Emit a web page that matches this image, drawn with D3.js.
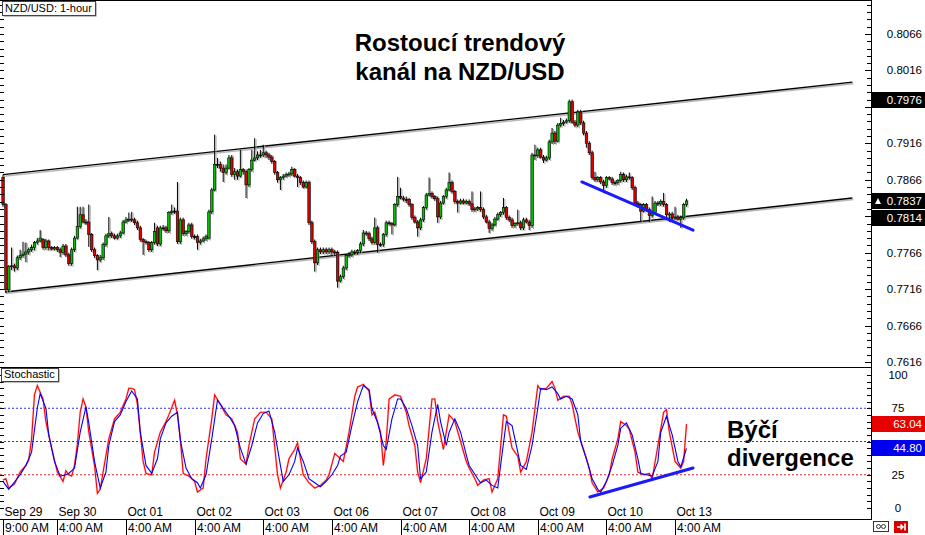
<!DOCTYPE html>
<html><head><meta charset="utf-8">
<script src="https://cdn.jsdelivr.net/npm/d3@7"></script>
<style>body{margin:0;background:#fff}svg{display:block}text{font-family:Arial,"Liberation Sans",sans-serif}</style>
</head><body><svg id="c" width="925" height="535"></svg>
<script>
const opens=[.7869,.7832,.7715,.7747,.7748,.7745,.7759,.7762,.7764,.7767,
.7770,.7773,.7780,.7782,.7784,.7773,.7782,.7773,.7771,.7773,
.7770,.7766,.7775,.7763,.7751,.7770,.7786,.7802,.7818,.7808,
.7808,.7791,.7770,.7762,.7756,.7759,.7777,.7789,.7792,.7789,
.7786,.7789,.7793,.7808,.7811,.7812,.7811,.7807,.7800,.7784,
.7781,.7780,.7770,.7780,.7800,.7778,.7800,.7800,.7796,.7821,
.7823,.7823,.7781,.7811,.7792,.7795,.7804,.7788,.7788,.7780,
.7782,.7785,.7786,.7822,.7852,.7887,.7887,.7882,.7876,.7882,
.7896,.7873,.7877,.7871,.7880,.7877,.7859,.7880,.7893,.7896,
.7900,.7900,.7903,.7900,.7897,.7891,.7876,.7866,.7869,.7871,
.7873,.7874,.7880,.7871,.7869,.7862,.7856,.7862,.7807,.7781,
.7752,.7770,.7767,.7770,.7767,.7770,.7767,.7766,.7727,.7733,
.7745,.7762,.7763,.7767,.7766,.7769,.7778,.7793,.7792,.7785,
.7780,.7800,.7777,.7777,.7791,.7807,.7806,.7804,.7832,.7843,
.7841,.7839,.7839,.7832,.7814,.7808,.7800,.7811,.7828,.7845,
.7847,.7843,.7840,.7815,.7834,.7843,.7852,.7862,.7850,.7836,
.7834,.7837,.7834,.7836,.7833,.7825,.7826,.7828,.7825,.7815,
.7808,.7799,.7804,.7812,.7818,.7821,.7828,.7814,.7811,.7803,
.7806,.7807,.7800,.7811,.7808,.7803,.7900,.7899,.7907,.7897,
.7893,.7896,.7918,.7930,.7919,.7941,.7943,.7945,.7947,.7973,
.7945,.7941,.7959,.7944,.7930,.7916,.7903,.7869,.7866,.7869,
.7863,.7858,.7869,.7867,.7862,.7862,.7865,.7873,.7866,.7870,
.7869,.7855,.7834,.7832,.7823,.7832,.7825,.7817,.7821,.7834,
.7833,.7836,.7832,.7818,.7819,.7814,.7815,.7812,.7814,.7832];
const highs=[.7873,.7834,.7749,.7773,.7751,.7762,.7770,.7781,.7780,.7773,
.7777,.7782,.7786,.7797,.7786,.7785,.7784,.7775,.7775,.7775,
.7773,.7778,.7778,.7766,.7773,.7789,.7829,.7829,.7829,.7812,
.7832,.7793,.7773,.7764,.7763,.7780,.7792,.7815,.7795,.7792,
.7792,.7796,.7811,.7815,.7821,.7822,.7814,.7810,.7803,.7786,
.7784,.7782,.7782,.7807,.7803,.7803,.7804,.7803,.7823,.7832,
.7828,.7863,.7814,.7814,.7797,.7807,.7807,.7791,.7791,.7785,
.7788,.7791,.7825,.7855,.7928,.7896,.7891,.7887,.7887,.7900,
.7900,.7882,.7880,.7907,.7882,.7880,.7882,.7907,.7923,.7905,
.7907,.7914,.7906,.7903,.7900,.7893,.7878,.7871,.7874,.7876,
.7877,.7884,.7882,.7874,.7871,.7865,.7865,.7865,.7810,.7784,
.7773,.7773,.7773,.7773,.7773,.7773,.7770,.7769,.7736,.7748,
.7764,.7767,.7770,.7770,.7771,.7781,.7797,.7796,.7795,.7788,
.7814,.7803,.7780,.7793,.7810,.7810,.7808,.7834,.7870,.7855,
.7844,.7843,.7841,.7834,.7817,.7811,.7814,.7830,.7848,.7869,
.7850,.7845,.7843,.7837,.7845,.7855,.7876,.7865,.7852,.7839,
.7840,.7840,.7839,.7839,.7850,.7829,.7830,.7850,.7828,.7818,
.7811,.7807,.7815,.7821,.7823,.7841,.7830,.7817,.7814,.7808,
.7825,.7810,.7814,.7814,.7811,.7903,.7914,.7910,.7910,.7900,
.7899,.7921,.7937,.7933,.7944,.7951,.7948,.7950,.7976,.7976,
.7948,.7962,.7962,.7947,.7933,.7919,.7906,.7877,.7871,.7871,
.7866,.7871,.7871,.7870,.7865,.7867,.7877,.7876,.7873,.7876,
.7871,.7858,.7837,.7834,.7834,.7834,.7828,.7843,.7837,.7837,
.7839,.7848,.7834,.7822,.7822,.7829,.7818,.7817,.7834,.7840];
const lows=[.7829,.7711,.7712,.7742,.7740,.7742,.7756,.7759,.7753,.7763,
.7767,.7769,.7777,.7780,.7770,.7770,.7769,.7769,.7769,.7767,
.7760,.7763,.7760,.7748,.7748,.7767,.7784,.7799,.7806,.7804,
.7774,.7767,.7759,.7742,.7753,.7756,.7774,.7786,.7786,.7784,
.7784,.7786,.7791,.7806,.7808,.7808,.7804,.7797,.7781,.7763,
.7777,.7767,.7767,.7777,.7775,.7775,.7796,.7793,.7793,.7818,
.7819,.7778,.7778,.7789,.7789,.7792,.7785,.7784,.7770,.7777,
.7780,.7782,.7784,.7819,.7850,.7882,.7877,.7863,.7873,.7880,
.7870,.7866,.7866,.7869,.7873,.7841,.7856,.7877,.7891,.7893,
.7896,.7897,.7896,.7893,.7888,.7873,.7862,.7852,.7866,.7869,
.7870,.7871,.7869,.7856,.7859,.7854,.7854,.7804,.7778,.7740,
.7749,.7764,.7764,.7764,.7764,.7763,.7763,.7718,.7725,.7730,
.7742,.7759,.7760,.7763,.7763,.7766,.7775,.7789,.7782,.7777,
.7777,.7766,.7774,.7774,.7788,.7803,.7791,.7802,.7829,.7839,
.7836,.7834,.7829,.7811,.7806,.7788,.7797,.7808,.7825,.7843,
.7840,.7837,.7807,.7812,.7832,.7840,.7850,.7847,.7833,.7821,
.7832,.7832,.7832,.7830,.7822,.7822,.7823,.7822,.7812,.7806,
.7793,.7796,.7802,.7810,.7815,.7818,.7811,.7808,.7800,.7800,
.7803,.7797,.7797,.7806,.7797,.7800,.7893,.7896,.7895,.7889,
.7891,.7893,.7915,.7915,.7917,.7938,.7940,.7943,.7944,.7943,
.7938,.7938,.7941,.7927,.7910,.7900,.7866,.7863,.7863,.7860,
.7848,.7855,.7865,.7859,.7858,.7859,.7862,.7863,.7863,.7866,
.7852,.7832,.7828,.7808,.7821,.7822,.7808,.7814,.7818,.7830,
.7830,.7829,.7815,.7808,.7811,.7811,.7810,.7800,.7811,.7829];
const closes=[.7832,.7715,.7747,.7748,.7745,.7759,.7762,.7764,.7767,.7770,
.7773,.7780,.7782,.7786,.7773,.7782,.7773,.7771,.7773,.7770,
.7766,.7775,.7763,.7751,.7770,.7786,.7802,.7818,.7808,.7808,
.7791,.7770,.7762,.7756,.7759,.7777,.7789,.7792,.7789,.7786,
.7789,.7793,.7808,.7811,.7812,.7811,.7807,.7800,.7784,.7781,
.7780,.7770,.7780,.7795,.7778,.7800,.7800,.7796,.7821,.7823,
.7823,.7781,.7811,.7792,.7795,.7804,.7788,.7788,.7780,.7782,
.7785,.7788,.7822,.7852,.7887,.7887,.7882,.7876,.7882,.7896,
.7873,.7877,.7871,.7880,.7877,.7859,.7880,.7893,.7896,.7900,
.7900,.7903,.7900,.7897,.7891,.7876,.7866,.7869,.7871,.7873,
.7874,.7880,.7871,.7869,.7862,.7856,.7862,.7807,.7781,.7752,
.7770,.7767,.7770,.7767,.7770,.7767,.7766,.7727,.7733,.7745,
.7762,.7763,.7767,.7766,.7769,.7778,.7793,.7792,.7785,.7780,
.7800,.7777,.7777,.7791,.7807,.7806,.7804,.7832,.7843,.7841,
.7839,.7839,.7832,.7814,.7808,.7800,.7811,.7828,.7845,.7847,
.7843,.7840,.7815,.7834,.7843,.7852,.7862,.7850,.7836,.7834,
.7837,.7834,.7836,.7833,.7825,.7826,.7828,.7825,.7815,.7808,
.7799,.7804,.7812,.7818,.7821,.7828,.7814,.7811,.7803,.7806,
.7807,.7800,.7811,.7808,.7803,.7900,.7899,.7907,.7897,.7893,
.7896,.7918,.7930,.7919,.7941,.7943,.7945,.7947,.7973,.7945,
.7941,.7959,.7944,.7930,.7916,.7903,.7869,.7866,.7869,.7863,
.7858,.7869,.7867,.7862,.7862,.7865,.7873,.7866,.7870,.7869,
.7855,.7834,.7832,.7823,.7832,.7825,.7817,.7821,.7834,.7833,
.7836,.7832,.7818,.7819,.7814,.7815,.7812,.7814,.7832,.7837];

// Stochastic %K (red) and %D (blue): [bar index, value]
const stochK=[[0,21],[1,22],[2,15],[4,18],[6,27],[8,32],[9,36],[10,52],[11,85],[12,92],[14,82],[15,65],[17,45],[19,27],[21,20],[22,28],[23,25],[24,24],[25,32],[26,48],[27,72],[28,82],[29,76],[30,57],[32,32],[33,11],[34,14],[35,27],[37,52],[39,67],[41,72],[43,82],[44,90],[45,90],[46,89],[47,78],[48,57],[49,35],[50,26],[52,25],[53,42],[55,57],[57,65],[58,70],[60,81],[61,70],[62,52],[63,26],[65,24],[67,20],[68,12],[70,15],[71,37],[73,67],[74,85],[76,78],[78,70],[80,67],[82,57],[83,37],[85,33],[86,47],[88,67],[90,72],[92,72],[94,67],[96,25],[97,15],[99,27],[100,37],[102,44],[103,49],[104,37],[105,25],[107,19],[109,15],[111,17],[113,21],[114,25],[116,41],[117,39],[119,35],[121,57],[123,84],[124,91],[126,93],[128,88],[129,70],[130,72],[132,57],[133,32],[134,50],[135,82],[137,85],[139,84],[141,72],[142,62],[144,47],[145,27],[146,19],[148,37],[150,82],[151,82],[152,65],[154,44],[156,70],[158,65],[160,50],[162,35],[163,30],[165,22],[166,17],[168,21],[170,22],[171,12],[173,22],[175,70],[176,69],[178,45],[180,39],[181,27],[183,35],[185,57],[187,92],[188,89],[190,90],[192,95],[193,90],[194,81],[196,84],[198,84],[199,78],[201,57],[203,44],[205,30],[206,19],[208,12],[210,15],[212,25],[213,37],[215,52],[216,65],[218,62],[219,59],[221,42],[222,27],[224,25],[226,26],[227,22],[229,47],[231,72],[232,74],[233,57],[235,35],[237,30],[238,35],[239,63.04]];
const stochD=[[0,20],[2,14],[6,25],[8,32],[10,42],[12,75],[13,86],[15,75],[16,55],[18,35],[20,24],[22,25],[23,26],[25,30],[27,57],[29,76],[30,64],[32,35],[34,15],[36,27],[37,47],[39,65],[41,70],[43,80],[45,88],[47,82],[48,57],[50,32],[52,26],[54,37],[55,52],[57,64],[59,69],[61,72],[62,51],[64,30],[66,22],[68,19],[69,15],[71,25],[73,52],[75,81],[77,75],[79,69],[81,62],[83,45],[85,33],[87,47],[89,64],[91,71],[93,73],[95,57],[97,32],[98,20],[100,25],[102,35],[103,45],[105,35],[107,22],[109,19],[111,16],[113,20],[115,25],[117,32],[118,39],[120,42],[122,62],[124,80],[126,92],[128,89],[129,75],[131,64],[133,47],[134,44],[136,67],[138,82],[139,82],[141,75],[143,62],[145,47],[146,22],[148,27],[150,57],[152,78],[153,65],[155,47],[156,57],[158,67],[160,57],[162,40],[163,32],[166,22],[167,19],[169,21],[171,17],[173,15],[174,32],[176,65],[178,62],[180,42],[181,32],[183,29],[185,47],[187,75],[188,90],[190,89],[192,91],[194,86],[195,82],[197,84],[199,82],[201,70],[202,50],[204,37],[206,22],[208,14],[209,12],[211,20],[213,32],[215,47],[216,60],[218,64],[220,55],[222,37],[223,26],[225,25],[227,24],[229,35],[230,57],[232,69],[234,55],[236,35],[237,31],[239,44.8]];

const tickBars=[0,19,43,67,91,115,139,163,187,211,235];
const dateLabels=["Sep 29","Sep 30","Oct 01","Oct 02","Oct 03","Oct 06","Oct 07","Oct 08","Oct 09","Oct 10","Oct 13"];
const timeLabels=["9:00 AM","4:00 AM","4:00 AM","4:00 AM","4:00 AM","4:00 AM","4:00 AM","4:00 AM","4:00 AM","4:00 AM","4:00 AM"];
const priceTicks=[0.8066,0.8016,0.7966,0.7916,0.7866,0.7816,0.7766,0.7716,0.7666,0.7616];
const stochTicks=[100,75,50,25,0];
const stochLevels=[75,50,25];
const channelUpper=[[0,0.7873],[297,0.8000]];
const channelLower=[[0.7,0.7712],[297,0.7841]];
const priceTrend=[[202.4,0.7863],[241.3,0.7797]];
const stochTrend=[[205.2,8.3],[241.3,30.1]];
const priceMarks=[0.7976,0.7837,0.7814];
const stochMarks=[63.04,44.80];
const titleLines=["Rostoucí trendový","kanál na NZD/USD"];
const noteLines=["Býčí","divergence"];

const svg=d3.select("#c");
const x=d3.scaleLinear().domain([0,239]).range([3,686.5]);
const y=d3.scaleLinear().domain([0.7616,0.8066]).range([362,34]);
const ys=d3.scaleLinear().domain([0,100]).range([508,375]);
const AX=871;

svg.append("rect").attr("width",925).attr("height",535).attr("fill","#fff");

// channel lines
const pl=d3.line().x(d=>x(d[0])).y(d=>y(d[1]));
[channelUpper,channelLower].forEach(c=>{
  svg.append("path").attr("d",pl(c)).attr("transform","translate(1,1.5)").attr("stroke","#b8b8b8").attr("stroke-width",1.6).attr("fill","none");
  svg.append("path").attr("d",pl(c)).attr("stroke","#000").attr("stroke-width",1.4).attr("fill","none");
});

// candles
const idx=d3.range(opens.length);
const cg=svg.append("g");
cg.selectAll(".sh").data(idx).join("line")
  .attr("x1",i=>x(i)+1.4).attr("x2",i=>x(i)+1.4)
  .attr("y1",i=>y(highs[i])+1).attr("y2",i=>y(lows[i])+1)
  .attr("stroke","#a8a8a8").attr("stroke-width",1);
cg.selectAll(".wk").data(idx).join("line")
  .attr("x1",i=>x(i)).attr("x2",i=>x(i))
  .attr("y1",i=>y(highs[i])).attr("y2",i=>y(lows[i]))
  .attr("stroke","#000").attr("stroke-width",1);
cg.selectAll(".bd").data(idx).join("rect")
  .attr("x",i=>x(i)-1.2).attr("width",2.4)
  .attr("y",i=>y(Math.max(opens[i],closes[i])))
  .attr("height",i=>Math.max(1,Math.abs(y(opens[i])-y(closes[i]))))
  .attr("fill",i=>closes[i]>opens[i]?"#00c000":(closes[i]<opens[i]?"#e00000":"#000"))
  .attr("stroke","#000").attr("stroke-width",0.6);

// blue trend line on price
svg.append("path").attr("d",pl(priceTrend)).attr("stroke","#1a1aff").attr("stroke-width",3).attr("stroke-linecap","round").attr("fill","none");

// titles
titleLines.forEach((t,k)=>svg.append("text").attr("x",460).attr("y",51+k*29).attr("text-anchor","middle")
  .attr("font-size",24).attr("font-weight","bold").attr("fill","#000").text(t));
noteLines.forEach((t,k)=>svg.append("text").attr("x",727).attr("y",438+k*28)
  .attr("font-size",24).attr("font-weight","bold").attr("fill","#000").text(t));

// stochastic levels
const levelColors=["#3030ff","#404040","#e02020"];
stochLevels.forEach((v,k)=>svg.append("line").attr("x1",0).attr("x2",AX).attr("y1",ys(v)).attr("y2",ys(v))
  .attr("stroke",levelColors[k]).attr("stroke-width",1).attr("stroke-dasharray","2,2"));

const sl=d3.line().x(d=>x(d[0])).y(d=>ys(d[1]));
svg.append("path").attr("d",sl(stochK)).attr("stroke","#ff9a9a").attr("stroke-width",2.2).attr("fill","none").attr("opacity",0.5);
svg.append("path").attr("d",sl(stochK)).attr("stroke","#ff0000").attr("stroke-width",1.1).attr("fill","none");
svg.append("path").attr("d",sl(stochD)).attr("stroke","#0000ff").attr("stroke-width",1.1).attr("fill","none");
svg.append("path").attr("d",sl(stochTrend)).attr("stroke","#1a1aff").attr("stroke-width",3).attr("stroke-linecap","round").attr("fill","none");

// frame lines
const fr=svg.append("g").attr("stroke","#000").attr("shape-rendering","crispEdges");
fr.append("line").attr("x1",0).attr("x2",AX).attr("y1",0.5).attr("y2",0.5);
fr.append("line").attr("x1",0).attr("x2",AX).attr("y1",367.5).attr("y2",367.5);
fr.append("line").attr("x1",0).attr("x2",AX).attr("y1",519.5).attr("y2",519.5);
fr.append("line").attr("x1",AX+0.5).attr("x2",AX+0.5).attr("y1",0).attr("y2",520);

// ticks
const pmin=d3.range(7606,8117,10).map(v=>v/10000).filter(v=>y(v)>2&&y(v)<366);
fr.selectAll(".pt").data(pmin).join("line").attr("x1",AX-4).attr("x2",AX).attr("y1",d=>Math.round(y(d))+0.5).attr("y2",d=>Math.round(y(d))+0.5);
fr.selectAll(".pl").data(pmin).join("line").attr("x1",0).attr("x2",4).attr("y1",d=>Math.round(y(d))+0.5).attr("y2",d=>Math.round(y(d))+0.5);
fr.selectAll(".pT").data(priceTicks).join("line").attr("x1",AX-6).attr("x2",AX).attr("y1",d=>Math.round(y(d))+0.5).attr("y2",d=>Math.round(y(d))+0.5);
const smin=d3.range(0,101,5);
fr.selectAll(".st").data(smin).join("line").attr("x1",AX-4).attr("x2",AX).attr("y1",d=>Math.round(ys(d))+0.5).attr("y2",d=>Math.round(ys(d))+0.5);
fr.selectAll(".sl").data(smin).join("line").attr("x1",0).attr("x2",4).attr("y1",d=>Math.round(ys(d))+0.5).attr("y2",d=>Math.round(ys(d))+0.5);

// price labels (those under a marker box are clipped away by the box, as in the reference)
const markPx=priceMarks.map(v=>Math.round(y(v)));
svg.selectAll(".plab").data(priceTicks.filter(d=>markPx.every(m=>Math.abs(y(d)-m)>9))).join("text").attr("x",922).attr("y",d=>y(d)+4).attr("text-anchor","end")
  .attr("font-size",11.5).attr("fill","#000").text(d=>d.toFixed(4));
priceMarks.forEach((v,k)=>{
  const yy=Math.round(y(v));
  svg.append("rect").attr("x",AX+1).attr("y",yy-8).attr("width",925-AX-1).attr("height",16).attr("fill","#000");
  svg.append("text").attr("x",922).attr("y",yy+4).attr("text-anchor","end").attr("font-size",11.5).attr("fill","#fff").text(v.toFixed(4));
  if(k===1) svg.append("path").attr("d",`M${AX+4},${yy+3}L${AX+7},${yy-3}L${AX+10},${yy+3}Z`).attr("fill","#fff");
});
const smarkPx=stochMarks.map(v=>Math.round(ys(v)));
svg.selectAll(".slab").data(stochTicks.filter(d=>smarkPx.every(m=>Math.abs(ys(d)-m)>9))).join("text").attr("x",898).attr("y",d=>ys(d)+4).attr("text-anchor","middle")
  .attr("font-size",11.5).attr("fill","#000").text(d=>d);
const markColors=["#e60000","#0000ee"];
stochMarks.forEach((v,k)=>{
  const yy=Math.round(ys(v));
  svg.append("rect").attr("x",AX+1).attr("y",yy-8).attr("width",925-AX-1).attr("height",16).attr("fill",markColors[k]);
  svg.append("text").attr("x",922).attr("y",yy+4).attr("text-anchor","end").attr("font-size",11.5).attr("fill","#fff").text(v.toFixed(2));
});

// x axis labels
tickBars.forEach((b,k)=>{
  const xx=Math.round(x(b))+0.5;
  svg.append("line").attr("x1",xx).attr("x2",xx).attr("y1",519).attr("y2",535).attr("stroke","#000").attr("shape-rendering","crispEdges");
  svg.append("text").attr("x",xx+1).attr("y",516).attr("font-size",12).attr("fill","#000").text(dateLabels[k]);
  svg.append("text").attr("x",xx+1.5).attr("y",532).attr("font-size",12).attr("fill","#000").text(timeLabels[k]);
});

// label boxes sized to their text
function tag(x0,y0,h,t){
  const sh=svg.append("rect"), bx=svg.append("rect");
  const tx=svg.append("text").attr("x",x0+3).attr("y",y0+h-3).attr("font-size",11).attr("fill","#000").text(t);
  const w=Math.ceil(tx.node().getComputedTextLength())+6;
  sh.attr("x",x0+1.5).attr("y",y0+1.5).attr("width",w).attr("height",h).attr("fill","#808080");
  bx.attr("x",x0+0.5).attr("y",y0+0.5).attr("width",w).attr("height",h).attr("fill","#fff").attr("stroke","#444");
}
tag(2,1,14,"NZD/USD: 1-hour");
tag(1,368,13,"Stochastic");

// bottom-right icons
svg.append("rect").attr("x",873.5).attr("y",521.5).attr("width",15).attr("height",10).attr("fill","#fff").attr("stroke","#333");
svg.append("rect").attr("x",876.5).attr("y",524.5).attr("width",4).attr("height",4).attr("rx",2).attr("fill","none").attr("stroke","#333");
svg.append("rect").attr("x",881.5).attr("y",524.5).attr("width",4).attr("height",4).attr("rx",2).attr("fill","none").attr("stroke","#333");
svg.append("rect").attr("x",894).attr("y",521).attr("width",14).attr("height",12).attr("fill","#d40000");
svg.append("path").attr("d","M897,527H903M900.5,524.5L903,527L900.5,529.5M905,523.5V530.5").attr("stroke","#fff").attr("stroke-width",1.6).attr("fill","none");
</script></body></html>
